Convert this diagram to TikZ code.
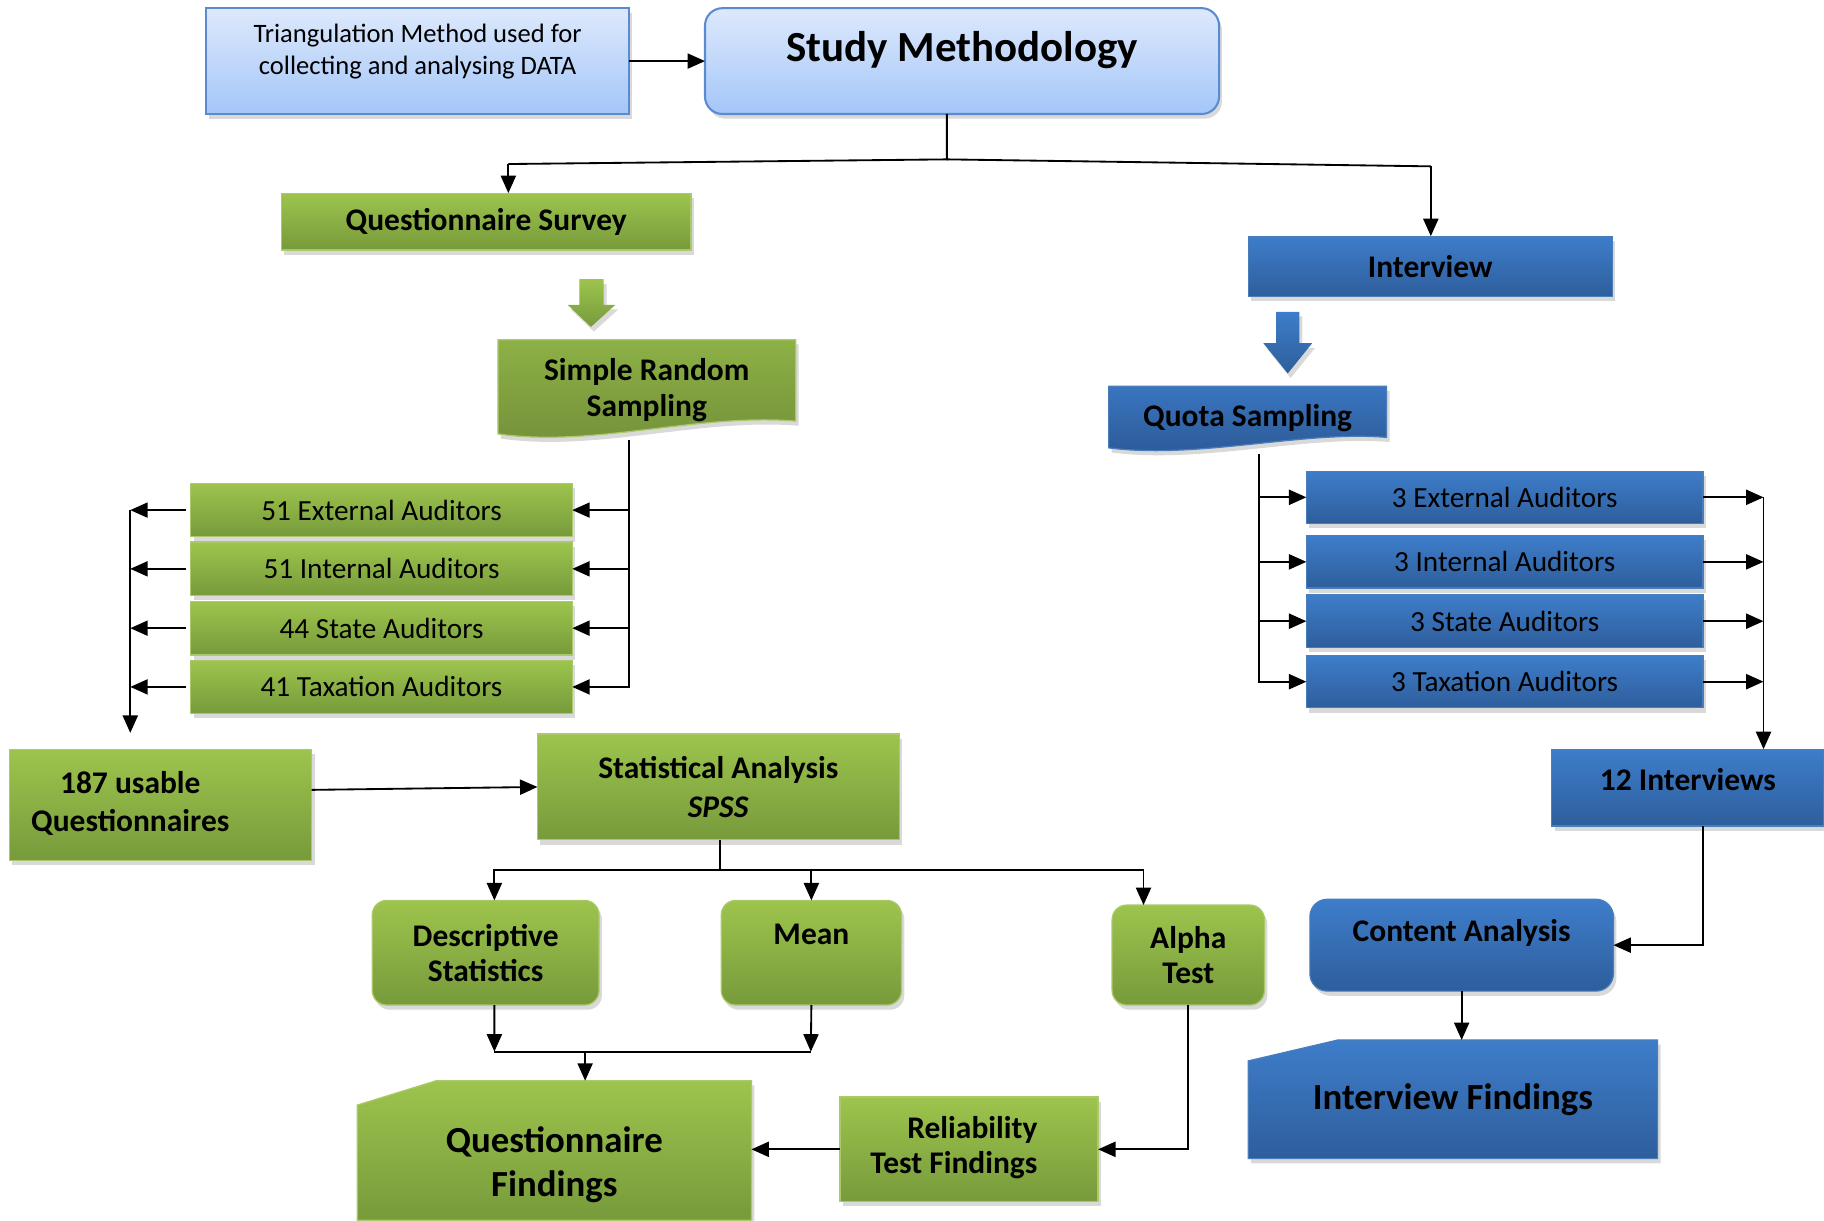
\documentclass[tikz,border=0pt]{standalone}
\usepackage{fontspec}
\setmainfont{Carlito}
\usetikzlibrary{arrows.meta,shadows,backgrounds}

\definecolor{gtop}{HTML}{9DC44D}
\definecolor{gbot}{HTML}{779A3B}
\definecolor{gline}{HTML}{A9C96B}
\definecolor{dgtop}{HTML}{8CB145}
\definecolor{dgbot}{HTML}{74903A}
\definecolor{btop}{HTML}{3E7DCA}
\definecolor{bbot}{HTML}{2E5E9C}
\definecolor{bline}{HTML}{4A7EBB}
\definecolor{dbtop}{HTML}{3A75C0}
\definecolor{dbbot}{HTML}{2B5893}
\definecolor{ltop}{HTML}{DDE9FC}
\definecolor{lbot}{HTML}{A4C6F8}
\definecolor{lline}{HTML}{5A8AD0}

\tikzset{
  bare/.style={rectangle, inner sep=0pt, outer sep=0pt, align=center},
  softshadow/.style={drop shadow={opacity=0.3, shadow xshift=0.05cm, shadow yshift=-0.08cm}},
  basebox/.style={bare, softshadow},
  greenbox/.style={basebox, top color=gtop, bottom color=gbot, draw=gline, line width=0.6pt},
  bluebox/.style={basebox, top color=btop, bottom color=bbot, draw=bline, line width=0.6pt},
  lightbox/.style={basebox, top color=ltop, bottom color=lbot, draw=lline, line width=1pt},
  lbl/.style={font=\bfseries\fontsize{15.4}{17.5}\selectfont},
  audbox/.style={minimum width=6.56cm, minimum height=0.92cm, font=\fontsize{14.3}{17}\selectfont},
  wire/.style={line width=0.9pt},
  conn/.style={wire, -{Triangle[length=0.3cm, width=0.26cm]}}
}

\begin{document}
\begin{tikzpicture}[x=0.02cm, y=-0.02cm]
    \useasboundingbox (0,0) rectangle (1568,1049);

    \node[lightbox, minimum width=7.28cm, minimum height=1.82cm, font=\fontsize{13}{15.4}\selectfont] (tri) at (359,52.5) {Triangulation Method used for\\collecting and analysing DATA\rule[-0.4cm]{0pt}{0.4cm}};
    \node[lightbox, rounded corners=0.3cm, minimum width=8.84cm, minimum height=1.82cm, font=\bfseries\fontsize{21}{25}\selectfont] (sm) at (827,52.5) {Study Methodology\rule[-0.51cm]{0pt}{0.51cm}};
    \draw[conn] (tri) -- (sm);

    \node[greenbox, lbl, minimum width=7.04cm, minimum height=0.98cm] (qs) at (418,190.5) {Questionnaire Survey};
    \node[bluebox, lbl, minimum width=6.26cm, minimum height=1.04cm] (iv) at (1229.5,229) {Interview};

    \coordinate (smbus) at (814,137);
    \coordinate (qsturn) at (437,141);
    \coordinate (ivturn) at (1230,143);
    \draw[wire] (smbus |- sm.south) -- (smbus) -- (qsturn);
    \draw[wire] (smbus) -- (ivturn);
    \draw[conn] (qsturn) -- (qsturn |- qs.north);
    \draw[conn] (ivturn) -- (ivturn |- iv.north);

    % block arrows
    \shade[top color=gtop, bottom color=gbot, softshadow] (498,240) -- (519,240) -- (519,262) -- (529,262) -- (508,281) -- (488,262) -- (498,262) -- cycle;
    \shade[top color=btop, bottom color=bbot, softshadow] (1097,268) -- (1117,268) -- (1117,295) -- (1128,295) -- (1107,321) -- (1086,295) -- (1097,295) -- cycle;

    \node[bare, minimum width=5.12cm, minimum height=1.56cm, font=\bfseries\fontsize{15.4}{17.6}\selectfont] (srs) at (556,331) {\rule{0pt}{0.57cm}Simple Random\\Sampling};
    \node[bare, lbl, minimum width=4.78cm, minimum height=0.92cm] (qts) at (1072.5,355) {\rule{0pt}{0.57cm}Quota Sampling};
    \begin{scope}[on background layer]
        \shade[top color=dgtop, bottom color=dgbot, draw=gline, line width=0.6pt, softshadow]
            (srs.north west) -- (srs.north east) -- ([yshift=0.16cm]srs.south east)
            .. controls ([shift={(-84,-15)}]srs.south east) and ([shift={(82,15)}]srs.south west) .. ([yshift=-0.06cm]srs.south west) -- cycle;
        \shade[top color=dbtop, bottom color=dbbot, draw=bline, line width=0.6pt, softshadow]
            (qts.north west) -- (qts.north east) -- ([yshift=0.04cm]qts.south east)
            .. controls ([shift={(-72,-8)}]qts.south east) and ([shift={(77,17)}]qts.south west) .. ([yshift=-0.14cm]qts.south west) -- cycle;
    \end{scope}

    \node[greenbox, audbox] (sext) at (328,438.5) {51 External Auditors};
    \node[greenbox, audbox] (sint) at (328,489) {51 Internal Auditors};
    \node[greenbox, audbox] (sstate) at (328,540) {44 State Auditors};
    \node[greenbox, audbox] (stax) at (328,590.5) {41 Taxation Auditors};

    \node[bluebox, audbox, minimum width=6.82cm, minimum height=0.9cm] (iext) at (1293.5,427.5) {3 External Auditors};
    \node[bluebox, audbox, minimum width=6.82cm, minimum height=0.9cm] (iint) at (1293.5,483) {3 Internal Auditors};
    \node[bluebox, audbox, minimum width=6.82cm, minimum height=0.9cm] (istate) at (1293.5,534) {3 State Auditors};
    \node[bluebox, audbox, minimum width=6.82cm, minimum height=0.9cm] (itax) at (1293.5,586) {3 Taxation Auditors};

    \coordinate (srsout) at (541,378);
    \draw[conn] (srsout) |- (stax.east);
    \draw[conn] (srsout |- sext.east) -- (sext.east);
    \draw[conn] (srsout |- sint.east) -- (sint.east);
    \draw[conn] (srsout |- sstate.east) -- (sstate.east);

    \node[greenbox, minimum width=5.2cm, minimum height=1.92cm, font=\bfseries\fontsize{15.4}{18.8}\selectfont] (uq) at (138,692) {\begin{tabular}{@{}c@{}}187 usable\\Questionnaires\end{tabular}\hspace*{1.04cm}};

    \coordinate (lcol) at (112,440);
    \draw[conn, shorten <=0.08cm] (sext.west) -- (sext.west -| lcol);
    \draw[conn, shorten <=0.08cm] (sint.west) -- (sint.west -| lcol);
    \draw[conn, shorten <=0.08cm] (sstate.west) -- (sstate.west -| lcol);
    \draw[conn, shorten <=0.08cm] (stax.west) -- (stax.west -| lcol);
    \draw[conn, shorten >=0.28cm] (lcol |- sext.west) -- (lcol |- uq.north);

    \coordinate (qtsout) at (1082,390);
    \draw[conn] (qtsout) |- (itax.west);
    \draw[conn] (qtsout |- iext.west) -- (iext.west);
    \draw[conn] (qtsout |- iint.west) -- (iint.west);
    \draw[conn] (qtsout |- istate.west) -- (istate.west);

    \node[bluebox, lbl, minimum width=4.68cm, minimum height=1.32cm] (tw) at (1451,677) {12 Interviews\rule[-0.28cm]{0pt}{0.28cm}};

    \coordinate (rcol) at (1516,428);
    \draw[conn] (iext.east) -- (iext.east -| rcol);
    \draw[conn] (iint.east) -- (iint.east -| rcol);
    \draw[conn] (istate.east) -- (istate.east -| rcol);
    \draw[conn] (itax.east) -- (itax.east -| rcol);
    \draw[conn] (rcol |- iext.east) -- (rcol |- tw.north);

    \node[greenbox, minimum width=6.22cm, minimum height=1.82cm, font=\bfseries\fontsize{15.4}{18.8}\selectfont] (sa) at (617.5,676.5) {Statistical Analysis\\\textit{SPSS}};
    \draw[conn] ([yshift=0.26cm]uq.east) -- (sa.west);

    \node[greenbox, rounded corners=0.25cm, minimum width=3.9cm, minimum height=1.8cm, font=\bfseries\fontsize{15.4}{17}\selectfont] (ds) at (417.5,819) {Descriptive\\Statistics};
    \node[greenbox, lbl, rounded corners=0.25cm, minimum width=3.1cm, minimum height=1.8cm] (mean) at (697.5,819) {Mean\rule[-0.64cm]{0pt}{0.64cm}};
    \node[greenbox, rounded corners=0.25cm, minimum width=2.62cm, minimum height=1.72cm, font=\bfseries\fontsize{15.4}{17.6}\selectfont] (alpha) at (1021.5,821) {Alpha\\Test};

    \coordinate (sabus) at (619,748);
    \draw[wire] (sabus |- sa.south) -- (sabus);
    \draw[conn] (sabus) -| ([xshift=0.15cm]ds.north);
    \draw[conn] (sabus) -| ([xshift=-0.77cm]alpha.north);
    \draw[conn] (sabus -| mean.north) -- (mean.north);

    \node[bare, minimum width=6.78cm, minimum height=2.4cm, font=\bfseries\fontsize{18}{21.6}\selectfont] (qf) at (476.5,989) {\rule{0pt}{0.93cm}Questionnaire\\Findings};
    \node[greenbox, minimum width=4.44cm, minimum height=1.8cm, font=\bfseries\fontsize{15.4}{17}\selectfont] (rtf) at (833,988) {\begin{tabular}{@{}r@{}}Reliability\\Test Findings\end{tabular}\hspace*{0.52cm}};

    \coordinate (dsbot) at (425,904);
    \coordinate (meanbot) at (697,904);
    \coordinate (qfbus) at (503,904);
    \draw[conn] ([xshift=0.15cm]ds.south) -- (dsbot);
    \draw[conn] (mean.south) -- (meanbot);
    \draw[wire] (dsbot) -- (meanbot);
    \draw[conn] (qfbus) -- (qfbus |- qf.north);
    \draw[conn] (alpha.south) |- (rtf.east);
    \draw[conn] (rtf.west) -- (rtf.west -| qf.east);

    \node[bluebox, lbl, rounded corners=0.3cm, minimum width=5.22cm, minimum height=1.58cm] (ca) at (1256.5,812.5) {Content Analysis\rule[-0.52cm]{0pt}{0.52cm}};
    \node[bare, minimum width=7.04cm, minimum height=2.04cm, font=\bfseries\fontsize{18}{21.6}\selectfont] (ifd) at (1249,945) {Interview Findings};
    \draw[conn] ([xshift=0.26cm]tw.south) |- (ca.east);
    \draw[conn] (ca.south) -- (ca.south |- ifd.north);

    \begin{scope}[on background layer]
        \shade[top color=gtop, bottom color=gbot, draw=gline, line width=0.6pt, softshadow]
            ([yshift=-0.42cm]qf.north west) -- ([xshift=1.36cm]qf.north west) -- (qf.north east) -- (qf.south east) -- (qf.south west) -- cycle;
        \shade[top color=btop, bottom color=bbot, draw=bline, line width=0.6pt, softshadow]
            ([yshift=-0.36cm]ifd.north west) -- ([xshift=1.54cm]ifd.north west) -- (ifd.north east) -- (ifd.south east) -- (ifd.south west) -- cycle;
    \end{scope}
\end{tikzpicture}
\end{document}
